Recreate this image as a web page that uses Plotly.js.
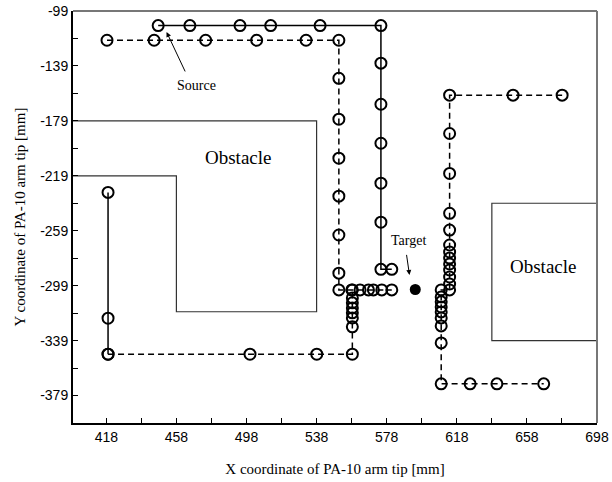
<!DOCTYPE html>
<html><head><meta charset="utf-8">
<script src="https://cdn.plot.ly/plotly-3.0.1.min.js"></script>
<style>html,body{margin:0;padding:0;background:#fff}#chart{width:612px;height:482px}</style>
</head><body><div id="chart"></div>
<script>
// Solid path (top row, then down the right column)
const solidX = [447.6, 465.7, 494.3, 511.8, 540.0, 574.7, 574.7, 574.7, 574.7, 574.7, 574.7, 574.7, 580.9];
const solidY = [-109.6, -109.6, -109.6, -109.6, -109.6, -109.6, -137.0, -166.9, -195.3, -224.4, -252.8, -287.1, -287.1];

// Dashed path (upper row, column down, row toward target)
const dashAX = [418.4, 445.3, 474.7, 503.8, 532.0, 550.7, 550.7, 550.7, 550.7, 550.7, 550.7, 550.7, 550.7, 558.1, 562.8, 567.6, 570.4, 575.2, 580.9];
const dashAY = [-120.3, -120.3, -120.3, -120.3, -120.3, -120.3, -148.0, -177.8, -206.2, -233.8, -262.1, -289.9, -302.1, -302.1, -302.1, -302.1, -302.1, -302.1, -302.1];

// Left solid segment
const solidLX = [419.0, 419.0, 419.0];
const solidLY = [-231.1, -322.7, -348.9];

// Dashed lower path (bottom row, column up)
const dashBX = [419.0, 500.0, 538.1, 558.4, 558.4, 558.4, 558.4, 558.4, 558.4, 558.4, 558.4];
const dashBY = [-348.9, -348.9, -348.9, -348.9, -329.0, -322.5, -318.8, -315.2, -311.5, -307.9, -302.1];

// Dashed right path
const dashCX = [678.1, 650.1, 613.9, 613.9, 613.9, 613.9, 613.9, 613.9, 613.9, 613.9, 613.9, 613.9, 613.9, 613.9, 613.9,
                609.1, 609.1, 609.1, 609.1, 609.1, 609.1, 609.1, 609.1, 609.1, 625.6, 640.9, 667.6];
const dashCY = [-160.3, -160.3, -160.3, -188.2, -217.3, -246.3, -258.5, -269.4, -274.5, -278.9, -283.2, -287.6, -292.7, -297.8, -302.1,
                -302.1, -307.2, -310.8, -314.5, -318.1, -322.5, -328.3, -340.7, -370.5, -370.5, -370.5, -370.5];

// Target
const targetX = [594.3];
const targetY = [-301.8];

// Obstacles outlines
const obs1X = [399, 538, 538, 458, 458, 399];
const obs1Y = [-179, -179, -318, -318, -219, -219];
const obs2X = [698, 638, 638, 698];
const obs2Y = [-239, -239, -339, -339];

const xTicks = [418, 458, 498, 538, 578, 618, 658, 698];
const yTicks = [-379, -339, -299, -259, -219, -179, -139, -99];

const mk = {symbol: 'circle-open', size: 11, color: '#000', line: {width: 2, color: '#000'}};
const traces = [
  {x: obs1X, y: obs1Y, mode: 'lines', line: {color: '#333', width: 1.2}, hoverinfo: 'skip'},
  {x: obs2X, y: obs2Y, mode: 'lines', line: {color: '#333', width: 1.2}, hoverinfo: 'skip'},
  {x: solidX, y: solidY, mode: 'lines+markers', line: {color: '#000', width: 1.5}, marker: mk},
  {x: dashAX, y: dashAY, mode: 'lines+markers', line: {color: '#000', width: 1.5, dash: '6px,4px'}, marker: mk},
  {x: solidLX, y: solidLY, mode: 'lines+markers', line: {color: '#000', width: 1.5}, marker: mk},
  {x: dashBX, y: dashBY, mode: 'lines+markers', line: {color: '#000', width: 1.5, dash: '6px,4px'}, marker: mk},
  {x: dashCX, y: dashCY, mode: 'lines+markers', line: {color: '#000', width: 1.5, dash: '6px,4px'}, marker: mk},
  {x: targetX, y: targetY, mode: 'markers', marker: {symbol: 'circle', size: 11, color: '#000'}}
];

const serif = 'Liberation Serif, Times New Roman, serif';
const sans = 'Liberation Sans, Arial, sans-serif';
const layout = {
  width: 612, height: 482,
  margin: {l: 73, r: 15, t: 11, b: 59},
  showlegend: false,
  paper_bgcolor: '#fff', plot_bgcolor: '#fff',
  xaxis: {
    range: [399, 698], tickvals: xTicks, ticktext: xTicks.map(String),
    ticks: 'inside', ticklen: 5, tickwidth: 1, tickcolor: '#000',
    minor: {dtick: 20, tick0: 418, ticks: 'inside', ticklen: 5, tickwidth: 1, tickcolor: '#000'},
    showgrid: false, zeroline: false, showline: true, linecolor: '#000', linewidth: 2,
    tickfont: {family: sans, size: 14, color: '#000'},
    title: {text: 'X coordinate of PA-10 arm tip [mm]', font: {family: serif, size: 15, color: '#000'}, standoff: 20}
  },
  yaxis: {
    range: [-399, -99], tickvals: yTicks, ticktext: yTicks.map(String),
    ticks: 'inside', ticklen: 5, tickwidth: 1, tickcolor: '#000',
    minor: {dtick: 20, tick0: -379, ticks: 'inside', ticklen: 5, tickwidth: 1, tickcolor: '#000'},
    showgrid: false, zeroline: false, showline: true, linecolor: '#000', linewidth: 2,
    tickfont: {family: sans, size: 14, color: '#000'},
    title: {text: 'Y coordinate of PA-10 arm tip [mm]', font: {family: serif, size: 15, color: '#000'}, standoff: 11}
  },
  shapes: [
    {type: 'line', xref: 'paper', yref: 'paper', x0: 0, x1: 1, y0: 1, y1: 1, line: {color: '#777', width: 2}},
    {type: 'line', xref: 'paper', yref: 'paper', x0: 1, x1: 1, y0: 0, y1: 1, line: {color: '#777', width: 2}}
  ],
  annotations: [
    {x: 493, y: -206, text: 'Obstacle', showarrow: false, font: {family: serif, size: 19, color: '#000'}},
    {x: 667.4, y: -285.4, text: 'Obstacle', showarrow: false, font: {family: serif, size: 19, color: '#000'}},
    {x: 452.4, y: -114.3, ax: 463.4, ay: -144.1, axref: 'x', ayref: 'y', text: '', showarrow: true,
     arrowhead: 2, arrowsize: 1, arrowwidth: 1, arrowcolor: '#000'},
    {x: 469.5, y: -153, text: 'Source', showarrow: false, font: {family: serif, size: 14, color: '#000'}},
    {x: 591, y: -291.2, ax: 589.2, ay: -275.5, axref: 'x', ayref: 'y', text: '', showarrow: true,
     arrowhead: 2, arrowsize: 1, arrowwidth: 1, arrowcolor: '#000'},
    {x: 590.4, y: -266.3, text: 'Target', showarrow: false, font: {family: serif, size: 14, color: '#000'}}
  ]
};
Plotly.newPlot('chart', traces, layout, {displayModeBar: false, staticPlot: true});
</script></body></html>
